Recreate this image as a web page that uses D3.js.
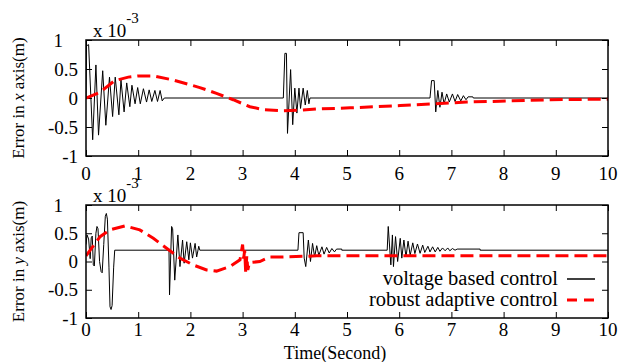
<!DOCTYPE html>
<html>
<head>
<meta charset="utf-8">
<script src="https://cdn.jsdelivr.net/npm/d3@7"></script>
<style>
  body { margin: 0; background: #fff; }
  svg { display: block; }
</style>
</head>
<body>
<svg id="chart" width="626" height="362"></svg>
<script>
// values in units of 1e-3 m, time in seconds
var timeTicks = [0, 1, 2, 3, 4, 5, 6, 7, 8, 9, 10];
var errorTicks = [-1, -0.5, 0, 0.5, 1];
var seriesNames = ["voltage based control", "robust adaptive control"];

var xVoltage = [[0,0],[0.01,0.9],[0.05,0.92],[0.128,-0.72],[0.19,0.57],[0.24,-0.64],[0.32,0.47],[0.38,-0.47],
  [0.45,0.36],[0.51,-0.32],[0.56,0.36],[0.63,-0.29],[0.67,0.31],[0.73,-0.24],[0.78,0.26],[0.84,-0.15],
  [0.88,0.22],[0.94,-0.1],[0.99,0.18],[1.04,-0.1],[1.1,0.16],[1.16,-0.07],[1.21,0.14],[1.26,-0.06],
  [1.32,0.13],[1.37,-0.06],[1.42,0.13],[1.46,-0.05],[1.5,0],[3.78,0],[3.81,0.77],[3.84,0.77],[3.86,-0.61],
  [3.92,0.49],[3.96,-0.46],[4.0,0.17],[4.04,-0.26],[4.08,0.17],[4.11,-0.18],[4.16,0.17],[4.2,-0.12],
  [4.24,0.13],[4.27,-0.1],[4.29,0],[6.59,0],[6.62,0.3],[6.67,0.3],[6.7,-0.24],[6.74,0.13],[6.78,-0.16],
  [6.82,0.1],[6.86,-0.1],[6.91,0.07],[6.96,-0.07],[7.02,0.07],[7.07,-0.06],[7.12,0.06],[7.18,-0.05],
  [7.23,0.04],[7.28,-0.03],[7.32,0.02],[7.41,0.02],[7.42,0],[10,0]];

var xRobust = [[0,0],[0.27,0.1],[0.55,0.3],[0.81,0.36],[1.0,0.38],[1.3,0.38],[1.67,0.31],[2.18,0.18],
  [2.5,0.08],[2.82,-0.03],[3.14,-0.15],[3.4,-0.2],[3.78,-0.22],[4.1,-0.21],[4.42,-0.19],[5.06,-0.17],
  [6.02,-0.13],[6.65,-0.1],[7.29,-0.07],[7.93,-0.055],[8.89,-0.03],[10,-0.02]];

var yVoltage = [[0,0.3],[0.02,0.47],[0.05,0.4],[0.08,0.05],[0.1,0.42],[0.12,0.45],[0.14,-0.06],[0.16,-0.08],
  [0.19,0.5],[0.21,0.62],[0.23,0.58],[0.26,0.0],[0.29,-0.18],[0.31,-0.2],[0.34,0.3],[0.37,0.8],[0.39,0.85],
  [0.41,0.75],[0.44,-0.1],[0.46,-0.8],[0.48,-0.85],[0.5,-0.78],[0.53,-0.1],[0.55,0.2],[1.59,0.2],
  [1.6,-0.59],[1.64,0.62],[1.66,0.58],[1.7,-0.33],[1.76,0.47],[1.8,-0.09],[1.85,0.38],[1.88,-0.03],
  [1.93,0.35],[1.97,0.03],[2.0,0.33],[2.04,0.06],[2.09,0.32],[2.12,0.08],[2.16,0.27],[2.18,0.2],[4.06,0.2],
  [4.08,0.51],[4.16,0.51],[4.18,0.06],[4.21,-0.09],[4.26,0.38],[4.3,0.0],[4.34,0.32],[4.38,0.08],[4.42,0.28],
  [4.46,0.11],[4.52,0.26],[4.56,0.13],[4.61,0.25],[4.66,0.15],[4.71,0.23],[4.76,0.17],[4.8,0.22],[4.9,0.22],
  [4.9,0.2],[5.77,0.2],[5.79,0.62],[5.84,-0.06],[5.87,0.47],[5.89,-0.09],[5.93,0.44],[5.97,0],[6.02,0.41],
  [6.05,0.06],[6.09,0.38],[6.13,0.08],[6.17,0.36],[6.21,0.11],[6.26,0.33],[6.3,0.14],[6.35,0.31],[6.4,0.145],
  [6.45,0.29],[6.49,0.16],[6.55,0.27],[6.59,0.17],[6.64,0.26],[6.69,0.17],[6.74,0.25],[6.78,0.18],[6.83,0.24],
  [6.88,0.19],[6.93,0.24],[6.97,0.19],[7.02,0.23],[7.07,0.2],[7.11,0.22],[7.55,0.22],[7.55,0.2],[10,0.2]];

var yRobust = [[0,0.1],[0.27,0.44],[0.46,0.56],[0.75,0.63],[1.03,0.56],[1.29,0.41],[1.55,0.23],[1.8,0.06],
  [2.05,-0.06],[2.31,-0.15],[2.5,-0.17],[2.76,-0.09],[2.95,0.03],[3.0,0.3],[3.02,0.05],[3.04,0.2],
  [3.06,-0.21],[3.08,0.1],[3.1,-0.15],[3.13,-0.02],[3.33,0.0],[3.52,0.08],[3.78,0.08],[4.42,0.1],[10,0.1]];

var serif = "'Liberation Serif', 'DejaVu Serif', serif";
var svg = d3.select("#chart").style("font-family", serif);
var left = 86, right = 608;

var panels = [
  {top: 40, bottom: 156, voltage: xVoltage, robust: xRobust, axis: "x", labelGap: 24, legend: false},
  {top: 205, bottom: 318, voltage: yVoltage, robust: yRobust, axis: "y", labelGap: 17.5, legend: true}
];

var x = d3.scaleLinear().domain([0, 10]).range([left, right]);

function label(sel) {
  return sel.append("text").style("font-family", serif).attr("fill", "#000");
}

panels.forEach(function(p, i) {
  var y = d3.scaleLinear().domain([-1, 1]).range([p.bottom, p.top]);
  var g = svg.append("g");

  g.append("clipPath").attr("id", "clip" + i)
    .append("rect").attr("x", left).attr("y", p.top)
    .attr("width", right - left).attr("height", p.bottom - p.top);

  // ticks pointing inward on all four sides
  var axes = [
    d3.axisBottom(x).tickValues(timeTicks).tickSize(-6).tickFormat(""),
    d3.axisTop(x).tickValues(timeTicks).tickSize(-6).tickFormat(""),
    d3.axisLeft(y).tickValues(errorTicks).tickSize(-6).tickFormat(""),
    d3.axisRight(y).tickValues(errorTicks).tickSize(-6).tickFormat("")
  ];
  var shifts = [[0, p.bottom], [0, p.top], [left, 0], [right, 0]];
  axes.forEach(function(a, k) {
    var ag = g.append("g").attr("transform", "translate(" + shifts[k][0] + "," + shifts[k][1] + ")").call(a);
    ag.select(".domain").remove();
    ag.selectAll("line").attr("stroke", "#000").attr("stroke-width", 1);
  });

  // tick labels
  timeTicks.forEach(function(d) {
    label(g).attr("x", x(d)).attr("y", p.bottom + p.labelGap)
      .attr("text-anchor", "middle").style("font-size", "19px").text(d);
  });
  errorTicks.forEach(function(d) {
    label(g).attr("x", d === 1 ? 63 : 78).attr("y", y(d) + 6.5)
      .attr("text-anchor", "end").style("font-size", "19px").text(d);
  });

  // multiplier
  var m = label(g).attr("x", 93).attr("y", p.top - 3.5).style("font-size", "19px");
  m.append("tspan").text("x 10");
  m.append("tspan").attr("dy", -14).style("font-size", "15px").text("-3");

  // y axis title
  var t = label(g)
    .attr("transform", "translate(24," + ((p.top + p.bottom) / 2) + ") rotate(-90)")
    .attr("text-anchor", "middle")
    .style("font-size", "17px");
  t.append("tspan").text("Error in ");
  t.append("tspan").style("font-style", "italic").text(p.axis);
  t.append("tspan").text(" axis(m)");

  var line = d3.line().x(function(d) { return x(d[0]); }).y(function(d) { return y(d[1]); });
  var plot = g.append("g").attr("clip-path", "url(#clip" + i + ")");

  plot.append("path").datum(p.voltage).attr("d", line)
    .attr("fill", "none").attr("stroke", "#000").attr("stroke-width", 1);
  plot.append("path").datum(p.robust).attr("d", line)
    .attr("fill", "none").attr("stroke", "#f00").attr("stroke-width", 3)
    .attr("stroke-dasharray", "13,6");

  g.append("rect").attr("x", left).attr("y", p.top)
    .attr("width", right - left).attr("height", p.bottom - p.top)
    .attr("fill", "none").attr("stroke", "#000").attr("stroke-width", 1.5);

  if (p.legend) {
    seriesNames.forEach(function(name, k) {
      var ly = 279 + k * 21;
      label(g).attr("x", 558).attr("y", ly + 6).attr("text-anchor", "end")
        .style("font-size", "20.5px").text(name);
      g.append("line").attr("x1", 567).attr("x2", 595).attr("y1", ly).attr("y2", ly)
        .attr("stroke", k === 0 ? "#000" : "#f00")
        .attr("stroke-width", k === 0 ? 1.5 : 3)
        .attr("stroke-dasharray", k === 0 ? null : "10,7");
    });
  }
});

label(svg).attr("x", 335).attr("y", 359).attr("text-anchor", "middle")
  .style("font-size", "18px").text("Time(Second)");
</script>
</body>
</html>
